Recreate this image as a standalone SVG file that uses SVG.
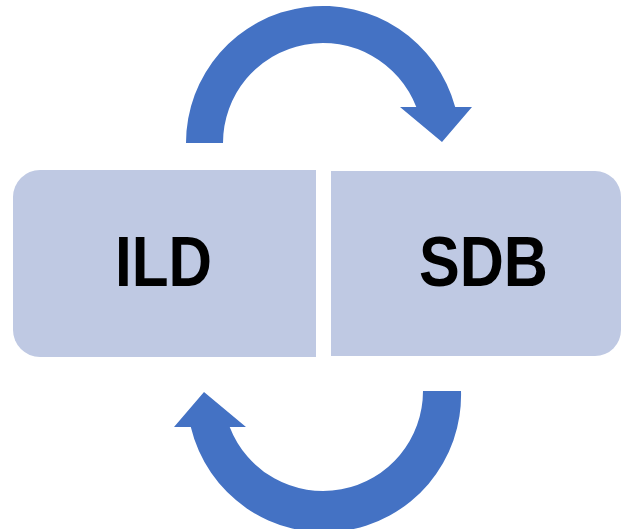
<svg xmlns="http://www.w3.org/2000/svg" width="621" height="529" viewBox="0 0 621 529">
<style>
.box{fill:#BFC9E3;}
.lbl{font-family:"Liberation Sans",Arial,sans-serif;font-weight:bold;font-size:70px;fill:#000;text-anchor:middle;}
.arr{fill:#4472C4;}
</style>
<rect width="621" height="529" fill="#fff"/>
<g id="connectors">
<path class="arr" d="M186,143 A137,137 0 0 1 455.2,107 L472,107 L442,142 L400,107 L416.3,107 A100,100 0 0 0 223,143 Z"/>
<path class="arr" d="M461,391 A137,137 0 0 1 190.8,427 L174,427 L204,392 L246,427 L229.7,427 A100,100 0 0 0 423,391 Z"/>
</g>
<g id="node-ild">
<path class="box" d="M316,170 H40 A27,27 0 0 0 13,197 V330 A27,27 0 0 0 40,357 H316 Z"/>
<text class="lbl" x="163.5" y="286" textLength="97" lengthAdjust="spacingAndGlyphs">ILD</text>
</g>
<g id="node-sdb">
<path class="box" d="M331,171 H595 A26,26 0 0 1 621,197 V330 A26,26 0 0 1 595,356 H331 Z"/>
<text class="lbl" x="483.5" y="286" textLength="129" lengthAdjust="spacingAndGlyphs">SDB</text>
</g>
</svg>
